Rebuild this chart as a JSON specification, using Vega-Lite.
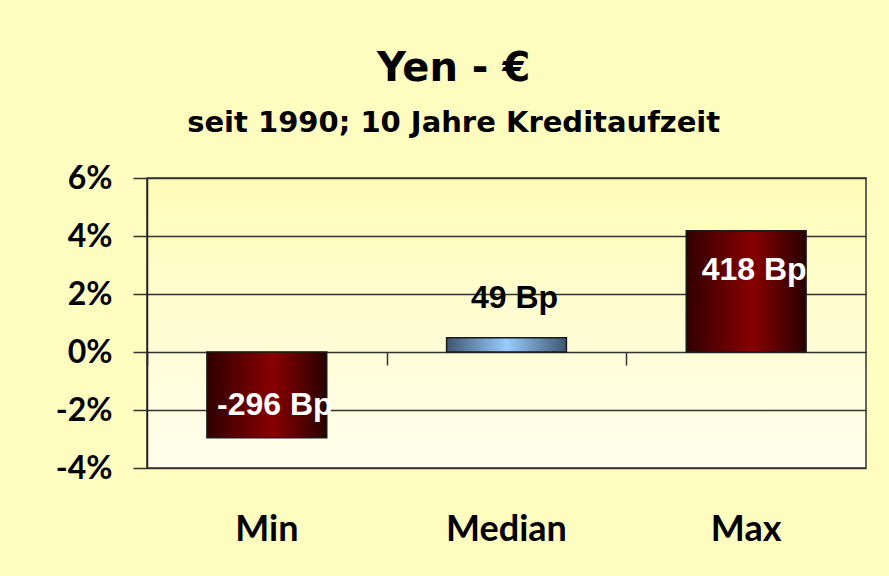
{
  "$schema": "https://vega.github.io/schema/vega-lite/v6.json",
  "width": 719,
  "height": 290,
  "autosize": {"type": "none"},
  "padding": {"left": 147, "top": 178, "right": 23, "bottom": 108},
  "background": "#FFFCC0",
  "title": {
    "text": "Yen - €",
    "subtitle": "seit 1990; 10 Jahre Kreditaufzeit",
    "anchor": "middle",
    "frame": "bounds",
    "dx": -7,
    "font": "DejaVu Sans",
    "fontSize": 40,
    "fontWeight": "bold",
    "color": "#000000",
    "subtitleFont": "DejaVu Sans",
    "subtitleFontSize": 29,
    "subtitleFontWeight": "bold",
    "subtitleColor": "#000000",
    "subtitlePadding": 20,
    "offset": 24
  },
  "config": {
    "view": {
      "stroke": "#333333",
      "strokeWidth": 1.5,
      "fill": {
        "gradient": "linear",
        "x1": 0, "y1": 0, "x2": 0, "y2": 1,
        "stops": [
          {"offset": 0, "color": "#FFFCB8"},
          {"offset": 1, "color": "#FFFEEC"}
        ]
      }
    }
  },
  "data": {
    "values": [
      {"cat": "Min", "value": -2.96, "label": "-296 Bp"},
      {"cat": "Median", "value": 0.49, "label": "49 Bp"},
      {"cat": "Max", "value": 4.18, "label": "418 Bp"}
    ]
  },
  "layer": [
    {
      "mark": {"type": "bar", "stroke": "#1a1a1a", "strokeWidth": 1.5},
      "encoding": {
        "x": {
          "field": "cat",
          "type": "nominal",
          "sort": ["Min", "Median", "Max"],
          "scale": {"paddingInner": 0.5, "paddingOuter": 0.25},
          "axis": {
            "orient": "bottom",
            "title": null,
            "labels": false,
            "domain": false,
            "grid": false,
            "ticks": true,
            "tickOffset": -119.8,
            "tickSize": 13,
            "tickColor": "#333333",
            "tickWidth": 1.5,
            "offset": -116
          }
        },
        "y": {
          "field": "value",
          "type": "quantitative",
          "scale": {"domain": [-4, 6], "nice": false},
          "axis": {
            "title": null,
            "values": [-4, -2, 0, 2, 4, 6],
            "labelExpr": "datum.value + '%'",
            "labelFont": "Lato",
            "labelFontSize": 32,
            "labelFontWeight": "bold",
            "labelColor": "#000000",
            "labelPadding": 21,
            "tickSize": 14,
            "tickColor": "#333333",
            "tickWidth": 1.5,
            "domainColor": "#222222",
            "domainWidth": 1.5,
            "grid": true,
            "gridColor": "#333333",
            "gridWidth": 1.3,
            "gridOpacity": 1
          }
        },
        "fill": {
          "condition": {
            "test": "datum.cat === 'Median'",
            "value": {
              "gradient": "linear",
              "x1": 0, "y1": 0, "x2": 1, "y2": 0,
              "stops": [
                {"offset": 0, "color": "#3E5670"},
                {"offset": 0.5, "color": "#99CCFF"},
                {"offset": 1, "color": "#3E5670"}
              ]
            }
          },
          "value": {
            "gradient": "linear",
            "x1": 0, "y1": 0, "x2": 1, "y2": 0,
            "stops": [
              {"offset": 0, "color": "#300000"},
              {"offset": 0.55, "color": "#880000"},
              {"offset": 1, "color": "#280000"}
            ]
          }
        }
      }
    },
    {
      "transform": [{"filter": "datum.cat === 'Max'"}],
      "mark": {"type": "text", "font": "Liberation Sans", "fontSize": 32, "fontWeight": "bold", "color": "#FFFFFF", "baseline": "middle", "dy": 39, "dx": 8},
      "encoding": {
        "x": {
          "field": "cat",
          "type": "nominal",
          "sort": ["Min", "Median", "Max"],
          "axis": {
            "orient": "bottom",
            "title": null,
            "domain": false,
            "ticks": false,
            "tickSize": 0,
            "grid": false,
            "labelAngle": 0,
            "labelFont": "Lato",
            "labelFontSize": 36,
            "labelFontWeight": "bold",
            "labelColor": "#000000",
            "labelPadding": 44
          }
        },
        "y": {"field": "value", "type": "quantitative"},
        "text": {"field": "label"}
      }
    },
    {
      "transform": [{"filter": "datum.cat === 'Min'"}],
      "mark": {"type": "text", "font": "Liberation Sans", "fontSize": 32, "fontWeight": "bold", "color": "#FFFFFF", "baseline": "middle", "dy": -33, "dx": 8},
      "encoding": {
        "x": {"field": "cat", "type": "nominal", "sort": ["Min", "Median", "Max"], "axis": null},
        "y": {"field": "value", "type": "quantitative"},
        "text": {"field": "label"}
      }
    },
    {
      "transform": [{"filter": "datum.cat === 'Median'"}],
      "mark": {"type": "text", "font": "Liberation Sans", "fontSize": 32, "fontWeight": "bold", "color": "#000000", "baseline": "middle", "dy": -40, "dx": 8},
      "encoding": {
        "x": {"field": "cat", "type": "nominal", "sort": ["Min", "Median", "Max"], "axis": null},
        "y": {"field": "value", "type": "quantitative"},
        "text": {"field": "label"}
      }
    }
  ],
  "resolve": {"axis": {"x": "independent"}}
}
